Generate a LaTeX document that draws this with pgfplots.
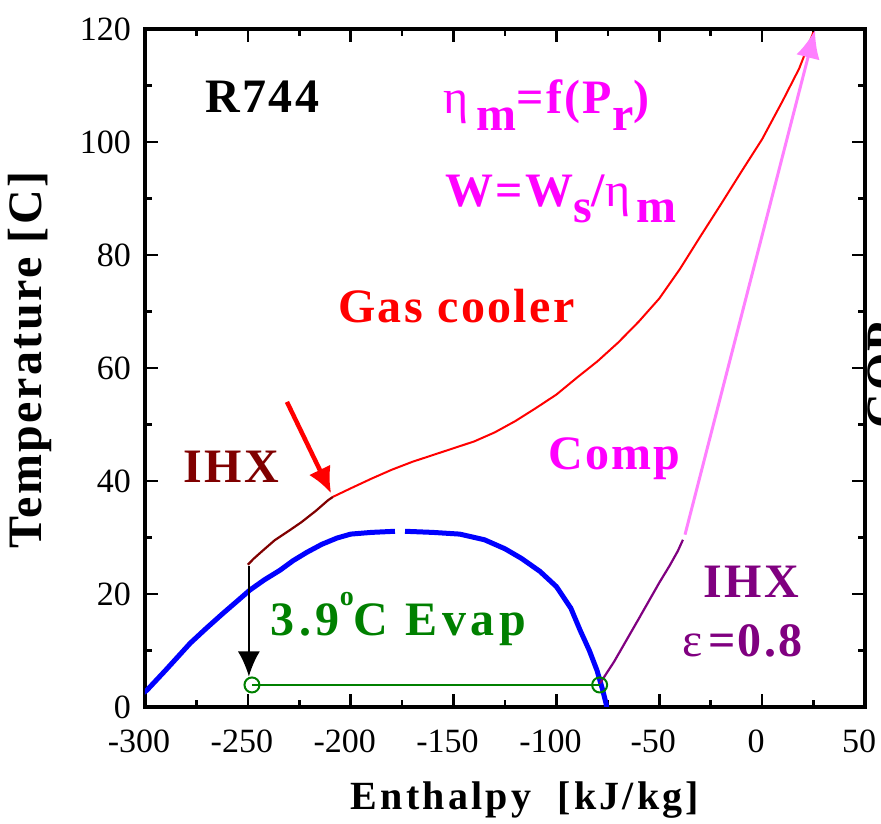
\documentclass[border=0pt]{standalone}
\usepackage{pgfplots}
\pgfplotsset{compat=1.18}
\usepackage{fontspec}
\setmainfont{Liberation Serif}
\newfontfamily\lblfont[LetterSpace=5]{Liberation Serif}
\usetikzlibrary{arrows.meta}
\definecolor{dgreen}{HTML}{008000}
\definecolor{dred}{HTML}{800000}
\definecolor{dpurple}{HTML}{800080}
\definecolor{mag}{HTML}{FF00FF}
\definecolor{pink}{HTML}{FF80FF}
\newcommand{\lbfx}{\lblfont\fontsize{48}{52}\selectfont\bfseries}
\begin{document}
\begin{tikzpicture}
\path[use as bounding box] (-145pt,-117pt) rectangle (736pt,707pt);
\begin{axis}[
  at={(0,0)}, anchor=south west, scale only axis,
  width=720pt, height=678pt,
  xmin=-300, xmax=50, ymin=0, ymax=120,
  xtick={-300,-250,...,50}, ytick={0,20,...,120},
  minor x tick num=1, minor y tick num=1,
  tick align=inside, major tick length=13pt, minor tick length=7pt,
  every tick/.style={black, line width=2.5pt},
  every minor tick/.style={black, line width=2.5pt},
  axis line style={line width=4.5pt},
  tick label style={font=\fontsize{34}{36}\selectfont},
  /pgf/number format/assume math mode=true,
  xticklabel style={anchor=north, inner sep=0pt, yshift=-23pt, xshift=-6pt},
  yticklabel style={anchor=east, inner sep=0pt, xshift=-14pt},
]
% saturation dome
\addplot[blue, line width=5pt] coordinates {
(-302,2.2) (-299,3.0) (-290,6.5) (-278,11.3) (-270,14) (-262,16.6) (-255,18.8)
(-249,20.7) (-242,22.5) (-234.4,24.2) (-228,25.9) (-221.2,27.4) (-214,28.8)
(-206.7,29.9) (-200,30.6) (-190,30.9) (-178.5,31.1)};
\addplot[blue, line width=5pt] coordinates {
(-173.6,31.1) (-160,30.9) (-147,30.6) (-135,29.6) (-125,28.0) (-117,26.3)
(-108,24.0) (-100,21.3) (-93,17.5) (-88.5,13.6) (-84,10) (-80.3,6.5)
(-77.5,3) (-75.8,0.5) (-75.5,-1)};
% evaporator
\addplot[dgreen, line width=2pt, mark=o, mark size=7.5pt,
  mark options={fill=white, line width=2pt}] coordinates {(-248,3.9) (-79,3.9)};
% expansion arrow
\addplot[black, line width=2pt, -{Latex[length=25pt,width=22pt]}] coordinates {(-249.5,25) (-249.5,5.4)};
% IHX hot side
\addplot[dred, line width=2.2pt] coordinates {
(-250,25.2) (-247,26.3) (-243,27.6) (-237,29.5) (-230,31.2) (-224,32.7) (-217,34.7) (-211,36.6) (-208.6,37.2)};
% gas cooler
\addplot[red, line width=2pt] coordinates {
(-208.6,37.2) (-200,38.7) (-190,40.4) (-180,42) (-170,43.4) (-160,44.6) (-150,45.8)
(-140,47.0) (-130,48.6) (-120,50.6) (-110,52.9) (-100,55.3) (-90,58.3) (-80,61.2)
(-70,64.5) (-60,68.2) (-50,72.3) (-40,77.5) (-30,83.3) (-20,89) (-10,94.8)
(0,100.5) (10,107.3) (18,113) (25,119.5)};
% IHX cold side
\addplot[dpurple, line width=2.2pt] coordinates {
(-78.8,4.2) (-72,8.0) (-66,11.8) (-60,15.6) (-55,18.8) (-50,22.0) (-45,25.0) (-41,27.6) (-38.5,29.6)};
% compression
\addplot[pink, line width=3pt, -{Latex[length=28pt,width=24pt]}] coordinates {(-37.5,30.5) (25.7,119.8)};
% pointer arrow
\addplot[red, line width=4.5pt, -{Latex[length=26pt,width=24pt]}] coordinates {(-231,54) (-209.5,37.8)};

\node[anchor=base west, inner sep=0pt, black] at (axis cs:-270.8,105.3) {\lbfx R744};
\node[anchor=base west, inner sep=0pt, mag] at (axis cs:-155.1,105.1)
  {\lbfx{\mdseries η}\hspace{8pt}\raisebox{-17pt}{m}=f(P\raisebox{-17pt}{r})};
\node[anchor=base west, inner sep=0pt, mag] at (axis cs:-154.2,88.5)
  {\lbfx W=W\raisebox{-16pt}{s}/{\mdseries η}\hspace{6pt}\raisebox{-16pt}{m}};
\node[anchor=base west, inner sep=0pt, red] at (axis cs:-206.2,68.1) {\lbfx Gas cooler};
\node[anchor=base west, inner sep=0pt, dred] at (axis cs:-281.5,39.8) {\lbfx IHX};
\node[anchor=base west, inner sep=0pt, mag] at (axis cs:-104.1,42.1) {\lbfx Comp};
\node[anchor=base west, inner sep=0pt, dpurple] at (axis cs:-28.7,19.3) {\lbfx IHX};
\node[anchor=base west, inner sep=0pt, dpurple] at (axis cs:-38.9,9.0)
  {\lbfx {\mdseries ε}\hspace{6pt}=\hspace{2pt}0.8};
\node[anchor=base west, inner sep=0pt, dgreen] at (axis cs:-239.2,12.7)
  {\lbfx\addfontfeatures{LetterSpace=10}3.9\raisebox{30pt}{\fontsize{28}{30}\selectfont o}C Evap};
\end{axis}
\node[anchor=base, inner sep=0pt] at (380pt,-103pt)
  {\lblfont\fontsize{40}{44}\selectfont\bfseries\addfontfeatures{LetterSpace=8}Enthalpy\ \ [kJ/kg]};
\node[anchor=base, inner sep=0pt, rotate=90] at (-103pt,347pt) {\lbfx Temperature [C]};
\node[anchor=north, inner sep=0pt, rotate=90] at (723pt,332pt) {\lbfx COP};
\end{tikzpicture}
\end{document}
